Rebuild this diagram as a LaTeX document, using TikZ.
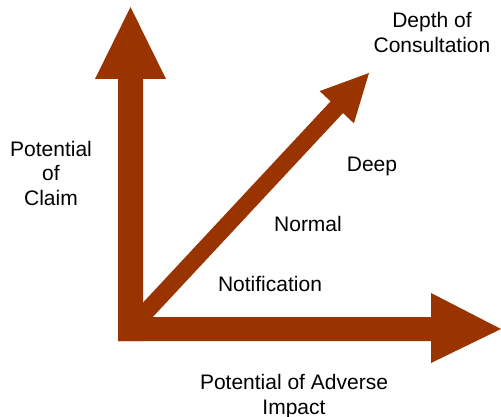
\documentclass[tikz,border=0pt]{standalone}
\usepackage{fontspec}
\setmainfont{Liberation Sans}
\begin{document}
\begin{tikzpicture}[x=1pt,y=-1pt,
  arrowfill/.style={fill=arrowred,draw=none},
  lbl/.style={anchor=base,inner sep=0pt,font=\fontsize{21}{25}\selectfont,text=black}]
\definecolor{arrowred}{HTML}{993300}
\useasboundingbox[fill=white] (0,0) rectangle (501,417);
% vertical arrow
\fill[arrowred] (118,341) -- (118,79) -- (95,79) -- (130.5,7) -- (166,79) -- (143,79) -- (143,341) -- cycle;
% horizontal arrow
\fill[arrowred] (118,317) -- (431,317) -- (431,293) -- (501,329) -- (431,363) -- (431,341) -- (118,341) -- cycle;
% diagonal arrow
\fill[arrowred] (136.19,334.83) -- (342.99,113.03) -- (353.9,123.3) -- (369,73) -- (319.7,91.1) -- (330.61,101.37) -- (123.81,323.17) -- cycle;
% labels
\node[lbl] (d1) at (432,28) {Depth of};
\node[lbl] (d2) at (432,53) {Consultation};
\node[lbl] (c1) at (51,157) {Potential};
\node[lbl] (c2) at (51,181) {of};
\node[lbl] (c3) at (51,205) {Claim};
\node[lbl] (deep) at (372,172) {Deep};
\node[lbl] (normal) at (308,232) {Normal};
\node[lbl] (notif) at (270,291) {Notification};
\node[lbl] (a1) at (294,389) {Potential of Adverse};
\node[lbl] (a2) at (294,414) {Impact};
\end{tikzpicture}
\end{document}
